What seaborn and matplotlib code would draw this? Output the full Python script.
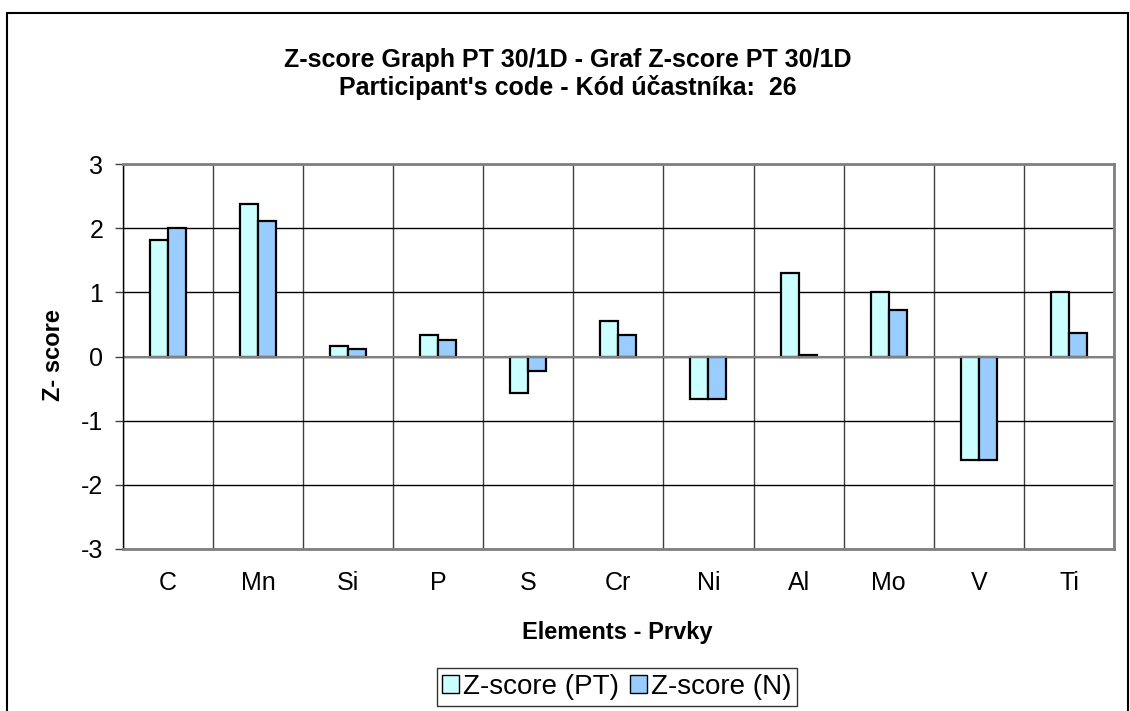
import numpy as np
import pandas as pd
import matplotlib.pyplot as plt
import matplotlib.patches as mpatches
import seaborn as sns

# Chart data
elements = ['C', 'Mn', 'Si', 'P', 'S', 'Cr', 'Ni', 'Al', 'Mo', 'V', 'Ti']
z_pt = [1.82, 2.38, 0.17, 0.33, -0.57, 0.55, -0.66, 1.30, 1.00, -1.62, 1.00]
z_n = [2.00, 2.11, 0.11, 0.26, -0.22, 0.33, -0.66, 0.02, 0.73, -1.62, 0.37]
series_names = ['Z-score (PT)', 'Z-score (N)']
series_colors = ['#CCFFFF', '#99CCFF']
y_ticks = [-3, -2, -1, 0, 1, 2, 3]

df = pd.DataFrame({
    'element': elements * 2,
    'z': z_pt + z_n,
    'series': [series_names[0]] * len(elements) + [series_names[1]] * len(elements),
})

sns.set_theme(style='white')
plt.rcParams['font.family'] = ['Liberation Sans', 'DejaVu Sans']
plt.rcParams.update({'text.color': 'black', 'axes.labelcolor': 'black',
                     'xtick.color': 'black', 'ytick.color': 'black'})

W, H = 1130, 711
fig = plt.figure(figsize=(W / 100, H / 100), dpi=100)
ax = fig.add_axes([122.7 / W, (H - 549) / H, (1114 - 122.7) / W, (549 - 164) / H])

sns.barplot(data=df, x='element', y='z', hue='series', order=elements,
            hue_order=series_names, palette=series_colors, width=0.4,
            gap=0, edgecolor='black', linewidth=1.6, saturation=1,
            legend=False, ax=ax)

ax.set_xlim(-0.5, len(elements) - 0.5)
ax.set_ylim(-3, 3)
ax.set_yticks(y_ticks)
ax.set_yticklabels([str(t) for t in y_ticks], fontsize=18)
ax.tick_params(axis='y', direction='out', length=6, width=1, color='#404040',
               left=True, pad=8)
ax.tick_params(axis='x', length=0, labelsize=18, pad=16)

# grid: horizontal at each unit, vertical between categories
ax.set_xticks(np.arange(-0.5, len(elements), 1), minor=True)
ax.tick_params(axis='x', which='minor', length=0)
ax.grid(axis='y', which='major', color='black', linewidth=1, zorder=0)
ax.grid(axis='x', which='minor', color='#404040', linewidth=1, zorder=0)
ax.set_axisbelow(True)
ax.axhline(0, color='#808080', linewidth=1.5, zorder=1)

for side in ['top', 'right', 'bottom']:
    ax.spines[side].set_color('#808080')
    ax.spines[side].set_linewidth(2)
ax.spines['left'].set_color('black')
ax.spines['left'].set_linewidth(1)

ax.set_xlabel('')
ax.set_ylabel('')
fig.text(617 / W, 1 - 632 / H, 'Elements - Prvky', ha='center', va='center',
         fontsize=17, fontweight='bold')
fig.text(53 / W, 0.5, 'Z- score', rotation=90, ha='center', va='center',
         fontsize=17, fontweight='bold')

fig.text(568 / W, 1 - 60 / H, 'Z-score Graph PT 30/1D - Graf Z-score PT 30/1D',
         ha='center', va='center', fontsize=18, fontweight='bold')
fig.text(568 / W, 1 - 88 / H, "Participant's code - Kód účastníka:  26",
         ha='center', va='center', fontsize=18, fontweight='bold')

handles = [mpatches.Patch(facecolor=c, edgecolor='black', linewidth=1)
           for c in series_colors]
leg = fig.legend(handles, series_names, loc='center', bbox_to_anchor=(617 / W, 1 - 687 / H),
                 ncol=2, fontsize=20, frameon=True, fancybox=False,
                 handlelength=0.6, handleheight=0.6, handletextpad=0.15,
                 columnspacing=0.4, borderpad=0.2, borderaxespad=0)
leg.get_frame().set_edgecolor('black')
leg.get_frame().set_linewidth(1)

# outer chart frame
fig.patches.append(mpatches.Rectangle((7 / W, -0.01), 1121 / W, 1 - 13 / H + 0.01,
                                      transform=fig.transFigure, fill=False,
                                      edgecolor='black', linewidth=1.5))

fig.savefig('out.png', dpi=100)
